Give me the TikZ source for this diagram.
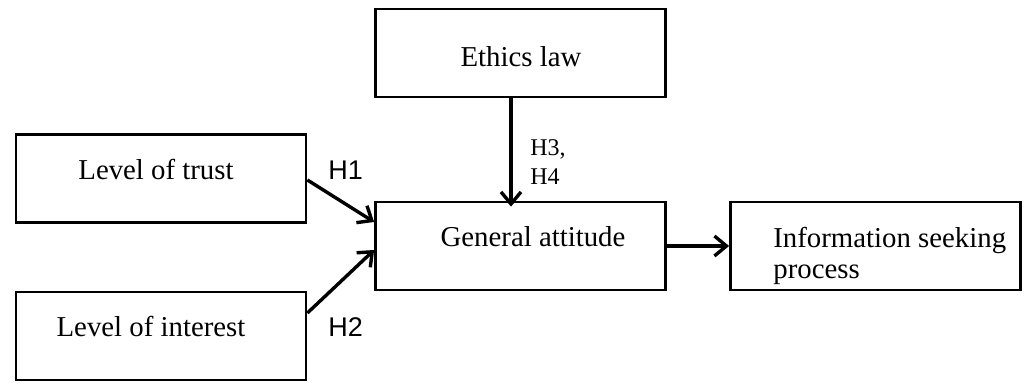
\documentclass[tikz,border=0pt]{standalone}
\usepackage{fontspec}
\setmainfont{Liberation Serif}
\newfontfamily\hypfont{Liberation Sans}
\usetikzlibrary{arrows.meta, positioning}

\begin{document}
\begin{tikzpicture}[x=0.5pt, y=-0.5pt,
  box/.style={draw, line width=1.4pt, minimum width=145pt, minimum height=44pt, inner sep=0pt},
  txt/.style={font=\fontsize{14.4}{15.5}\selectfont, inner sep=0pt},
  hyp/.style={font=\hypfont\fontsize{13.5}{15}\selectfont, inner sep=0pt},
  link/.style={line width=1.7pt, -{Straight Barb[length=6pt, width=10pt, line width=1.7pt]}}]
  \useasboundingbox (0,0) rectangle (1034,383);

  % Boxes
  \node[box] (ethics) at (520.5, 53) {};
  \node[box] (trust) at (161, 178.5) {};
  \node[box] (interest) at (161, 336) {};
  \node[box] (general) at (520.5, 246) {};
  \node[box] (info) at (875.5, 246) {};

  % Box texts
  \node[txt, anchor=base] (ethicstxt) at (521, 67) {Ethics law};
  \node[txt, anchor=base] (trusttxt) at (156, 180) {Level of trust};
  \node[txt, anchor=base] (interesttxt) at (151, 337) {Level of interest};
  \node[txt, anchor=base] (generaltxt) at (533, 247) {General attitude};
  \node[txt, anchor=north west, align=left] (infotxt) at (773, 227) {Information seeking\\process};

  % Connectors
  \draw[link] ([yshift=-0.75pt]trust.east) -- ([yshift=12pt]general.west);
  \draw[link] ([yshift=11.5pt]interest.east) -- ([yshift=-2pt]general.west);
  \draw[link] ([xshift=-4.75pt]ethics.south) -- ([xshift=-4.75pt, yshift=-3pt]general.north);
  \draw[link] (general.east) -- (info.west);

  % Hypotheses
  \node[hyp, anchor=base west] (h1) at (328, 180) {H1};
  \node[hyp, anchor=base west] (h2) at (328, 337) {H2};
  \node[txt, font=\fontsize{12}{14.5}\selectfont, anchor=north west, align=left] (h34) at (530, 139) {H3,\\H4};
\end{tikzpicture}
\end{document}
